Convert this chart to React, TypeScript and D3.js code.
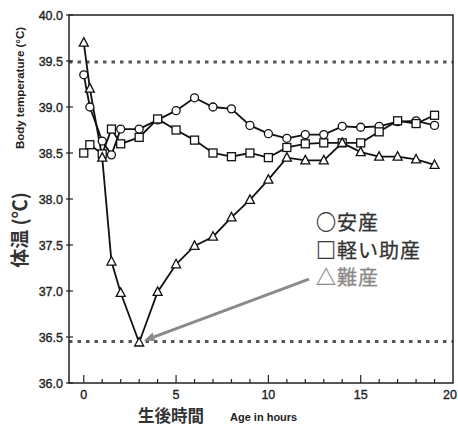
import React from "react";
import * as d3 from "d3";

const hours = [0, 0.33, 1, 1.5, 2, 3, 4, 5, 6, 7, 8, 9, 10, 11, 12, 13, 14, 15, 16, 17, 18, 19];
const safeBirth = [39.35, 39.0, 38.63, 38.48, 38.76, 38.76, 38.86, 38.96, 39.1, 39.0, 38.98, 38.8, 38.71, 38.66, 38.7, 38.7, 38.79, 38.78, 38.79, 38.84, 38.85, 38.8];
const assistedBirth = [38.5, 38.59, 38.49, 38.76, 38.6, 38.67, 38.87, 38.75, 38.64, 38.5, 38.46, 38.5, 38.45, 38.56, 38.6, 38.61, 38.61, 38.61, 38.73, 38.85, 38.82, 38.91];
const difficultBirth = [39.7, 39.2, 38.45, 37.32, 36.98, 36.44, 36.99, 37.29, 37.49, 37.59, 37.8, 37.99, 38.21, 38.45, 38.42, 38.42, 38.61, 38.51, 38.46, 38.46, 38.43, 38.37];
const yTicks = [36.0, 36.5, 37.0, 37.5, 38.0, 38.5, 39.0, 39.5, 40.0];
const xMajorTicks = [0, 5, 10, 15, 20];
const xMinorTicks = d3.range(0, 20, 1);
const refLines = [39.49, 36.45];
const legendLabels = ["○安産", "□軽い助産", "△難産"];
const arrowFrom = { h: 12.2, t: 37.13 };
const arrowTo = { h: 3.25, t: 36.46 };

const W = 458, H = 427;
const left = 69, right = 453, top = 15, bottom = 383;

export default function App() {
  const x = d3.scaleLinear().domain([-0.8, 20]).range([left, right]);
  const y = d3.scaleLinear().domain([36, 40]).range([bottom, top]);
  const line = d3.line<number>().x((_, i) => x(hours[i])).y((v) => y(v));
  const numFont = "'Liberation Sans', Arial, sans-serif";
  const cjkFont = "'Noto Sans CJK JP', sans-serif";

  const circ = (v: number, i: number) => (
    <circle key={"c" + i} cx={x(hours[i])} cy={y(v)} r={4} fill="#fff" stroke="#111" strokeWidth={1.3} />
  );
  const sq = (v: number, i: number) => (
    <rect key={"s" + i} x={x(hours[i]) - 4} y={y(v) - 4} width={8} height={8} fill="#fff" stroke="#111" strokeWidth={1.3} />
  );
  const tri = (v: number, i: number) => {
    const cx = x(hours[i]), cy = y(v);
    return (
      <path key={"t" + i} d={`M${cx},${cy - 5}L${cx + 4.5},${cy + 3.5}L${cx - 4.5},${cy + 3.5}Z`} fill="#fff" stroke="#111" strokeWidth={1.3} />
    );
  };

  const ax0 = x(arrowFrom.h), ay0 = y(arrowFrom.t), ax1 = x(arrowTo.h), ay1 = y(arrowTo.t);
  const ang = Math.atan2(ay1 - ay0, ax1 - ax0);
  const hl = 11, hw = 4.5;
  const bx = ax1 - hl * Math.cos(ang), by = ay1 - hl * Math.sin(ang);
  const head = `M${ax1},${ay1}L${bx + hw * Math.sin(ang)},${by - hw * Math.cos(ang)}L${bx - hw * Math.sin(ang)},${by + hw * Math.cos(ang)}Z`;

  return (
    <div style={{ position: "absolute", left: 0, top: 0 }}>
      <svg width={W} height={H} style={{ display: "block", background: "#fff" }}>
        {refLines.map((r) => (
          <line key={r} x1={left} x2={right} y1={y(r)} y2={y(r)} stroke="#555" strokeWidth={3} strokeDasharray="3.5 5" />
        ))}
        <rect x={left} y={top} width={right - left} height={bottom - top} fill="none" stroke="#222" strokeWidth={1.5} />
        {yTicks.map((t) => (
          <g key={t}>
            <line x1={left - 3} x2={left + 4} y1={y(t)} y2={y(t)} stroke="#222" strokeWidth={1.2} />
            <text x={left - 6} y={y(t)} dy="0.36em" textAnchor="end" fontFamily={numFont} fontSize={12.5} fill="#222" stroke="#222" strokeWidth={0.35}>
              {t.toFixed(1)}
            </text>
          </g>
        ))}
        {xMinorTicks.map((t) => (
          <line key={"m" + t} x1={x(t)} x2={x(t)} y1={bottom} y2={bottom - (t % 5 === 0 ? 8 : 4)} stroke="#222" strokeWidth={1.2} />
        ))}
        {xMajorTicks.map((t) => (
          <text key={"x" + t} x={t === 20 ? x(t) - 3 : x(t)} y={399} textAnchor="middle" fontFamily={numFont} fontSize={12.5} fill="#222" stroke="#222" strokeWidth={0.35}>
            {t}
          </text>
        ))}
        <path d={line(safeBirth) || ""} fill="none" stroke="#111" strokeWidth={1.8} />
        <path d={line(assistedBirth) || ""} fill="none" stroke="#111" strokeWidth={1.8} />
        <path d={line(difficultBirth) || ""} fill="none" stroke="#111" strokeWidth={1.8} />
        {safeBirth.map(circ)}
        {assistedBirth.map(sq)}
        {difficultBirth.map(tri)}
        <line x1={ax0} y1={ay0} x2={bx} y2={by} stroke="#8a8a8a" strokeWidth={3} />
        <path d={head} fill="#8a8a8a" />
        {legendLabels.map((l, i) => (
          <text key={l} x={316} y={[223, 251, 278][i]} dy="0.36em" fontFamily={cjkFont} fontSize={20} fill={i === 2 ? "#8a8a8a" : "#333"} stroke={i === 2 ? "#8a8a8a" : "#333"} strokeWidth={0.3} letterSpacing={1}>
            {l}
          </text>
        ))}
        <text transform={`translate(24,88) rotate(-90)`} textAnchor="middle" fontFamily={numFont} fontWeight="bold" fontSize={11.5} fill="#222">
          Body temperature (°C)
        </text>
        <text transform={`translate(27,230) rotate(-90)`} textAnchor="middle" fontFamily={cjkFont} fontWeight="bold" fontSize={19} fill="#333">
          体温 (℃)
        </text>
        <text x={138} y={422} fontFamily={cjkFont} fontWeight="bold" fontSize={16.5} fill="#333">
          生後時間
        </text>
        <text x={230} y={421} fontFamily={numFont} fontWeight="bold" fontSize={11} fill="#222">
          Age in hours
        </text>
      </svg>
    </div>
  );
}
